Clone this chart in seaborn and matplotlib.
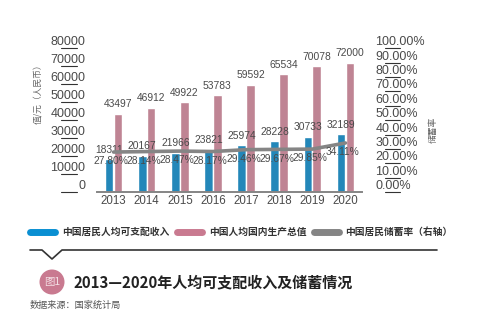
import matplotlib
matplotlib.use("Agg")
import matplotlib.pyplot as plt
import seaborn as sns
import pandas as pd
from matplotlib.lines import Line2D
from matplotlib.patches import Ellipse

years = ["2013", "2014", "2015", "2016", "2017", "2018", "2019", "2020"]
income = [18311, 20167, 21966, 23821, 25974, 28228, 30733, 32189]
gdp = [43497, 46912, 49922, 53783, 59592, 65534, 70078, 72000]
saving = [27.80, 28.14, 28.47, 28.17, 29.46, 29.67, 29.85, 34.11]
s_income = "中国居民人均可支配收入"
s_gdp = "中国人均国内生产总值"
s_rate = "中国居民储蓄率（右轴）"
left_ticks = [0, 10000, 20000, 30000, 40000, 50000, 60000, 70000, 80000]
right_ticks = [0, 10, 20, 30, 40, 50, 60, 70, 80, 90, 100]

C_BLUE = "#0a8fd2"
C_PINK = "#c97a90"
C_GRAY = "#858585"
C_TXT = "#4a4a4a"

sns.set_style("white")
plt.rcParams['font.family'] = ['Liberation Sans', 'Noto Sans CJK SC', 'DejaVu Sans']
CJK = ['Noto Sans CJK SC', 'DejaVu Sans']

W, H = 496, 322
fig = plt.figure(figsize=(W / 100, H / 100), dpi=100)

def fx(px):
    return px / W

def fy(py):
    return 1 - py / H

ax_l, ax_r, ax_b, ax_t = 97, 362, 192, 48.3
ax = fig.add_axes([fx(ax_l), fy(ax_b), fx(ax_r - ax_l), (ax_b - ax_t) / H])

df = pd.DataFrame({
    "year": years * 2,
    "value": income + gdp,
    "series": [s_income] * 8 + [s_gdp] * 8,
})
sns.barplot(data=df, x="year", y="value", hue="series", order=years,
            hue_order=[s_income, s_gdp], palette=[C_BLUE, C_PINK],
            width=0.54, gap=0.04, ax=ax, legend=False)
ax.set_ylim(0, 80000)
ax.set_xlim(-0.5, 7.5)
ax.set_xlabel("")
ax.set_ylabel("")
for s in ["left", "right", "top"]:
    ax.spines[s].set_visible(False)
ax.spines["bottom"].set_color(C_GRAY)
ax.spines["bottom"].set_linewidth(1.4)
ax.set_yticks(left_ticks)
ax.set_yticklabels([str(v) for v in left_ticks], fontsize=9, color=C_TXT)
for lab in ax.get_yticklabels():
    lab.set_va("bottom")
ax.tick_params(axis="y", length=0, pad=8.5)
ax.tick_params(axis="x", length=0, pad=2.5, labelsize=8.3, labelcolor=C_TXT)

# small tick marks under left labels
tr = ax.get_yaxis_transform()
for v in left_ticks:
    ax.plot([(61 - ax_l) / (ax_r - ax_l), (77 - ax_l) / (ax_r - ax_l)], [v, v],
            transform=tr, color="#333333", lw=0.8, clip_on=False)

# bar value labels
for cont, vals in zip(ax.containers, [income, gdp]):
    for rect, v in zip(cont, vals):
        ax.text(rect.get_x() + rect.get_width() / 2, v + 2500, str(v),
                ha="center", va="bottom", fontsize=7.4, color=C_TXT)

ax2 = ax.twinx()
sns.lineplot(x=list(range(len(years))), y=saving, ax=ax2, color=C_GRAY, lw=2.6)
ax2.set_ylim(0, 100)
ax2.set_xlim(-0.5, 7.5)
for s in ["left", "right", "top", "bottom"]:
    ax2.spines[s].set_visible(False)
ax2.set_yticks(right_ticks)
ax2.set_yticklabels([f"{v:.2f}%" for v in right_ticks], fontsize=9, color=C_TXT)
for lab in ax2.get_yticklabels():
    lab.set_va("bottom")
ax2.tick_params(axis="y", length=0, pad=9.5)
ax2.set_ylabel("")
tr2 = ax2.get_yaxis_transform()
for v in right_ticks:
    ax2.plot([(385 - ax_l) / (ax_r - ax_l), (400 - ax_l) / (ax_r - ax_l)], [v, v],
             transform=tr2, color="#333333", lw=0.8, clip_on=False)
for i, v in enumerate(saving):
    ax2.text(i - 0.08, v - 6.5, f"{v:.2f}%", ha="center", va="center",
             fontsize=7.4, color=C_TXT)

# axis titles
fig.text(fx(38), fy(92), "值/元（人民币）", rotation=90, ha="center", va="center",
         fontsize=6.3, color="#666666", family=CJK)
fig.text(fx(433), fy(130), "储蓄率", rotation=90, ha="center", va="center",
         fontsize=6.3, color="#666666", family=CJK)

# legend
handles = [Line2D([], [], color=C_BLUE, lw=5),
           Line2D([], [], color=C_PINK, lw=5),
           Line2D([], [], color=C_GRAY, lw=5)]
leg = fig.legend(handles, [s_income, s_gdp, s_rate], ncol=3, loc="center left",
                 bbox_to_anchor=(fx(30), fy(232)), frameon=False,
                 borderpad=0, borderaxespad=0, handlelength=2.6,
                 handletextpad=0.7, columnspacing=0.75,
                 prop={"family": CJK, "weight": "bold", "size": 7})
for t in leg.get_texts():
    t.set_color("#333333")

# divider with notch
xs = [30, 42, 52, 62, 437]
ys = [250, 250, 259, 250, 250]
fig.add_artist(Line2D([fx(x) for x in xs], [fy(y) for y in ys],
                      transform=fig.transFigure, color="#333333", lw=1.2))

# figure badge and title
fig.add_artist(Ellipse((fx(52), fy(282)), 25 / W, 25 / H, transform=fig.transFigure,
                       facecolor=C_PINK, edgecolor="none"))
fig.text(fx(52), fy(282), "图1", ha="center", va="center", fontsize=7.5,
         color="#f3dfe4", family=CJK)
fig.text(fx(73), fy(282), "2013—2020年人均可支配收入及储蓄情况", ha="left", va="center",
         fontsize=10.8, weight="bold", color="#222222", family=CJK)
fig.text(fx(30), fy(305), "数据来源：国家统计局", ha="left", va="center",
         fontsize=6.6, color="#555555", family=CJK)

fig.savefig("out.png", dpi=100)
